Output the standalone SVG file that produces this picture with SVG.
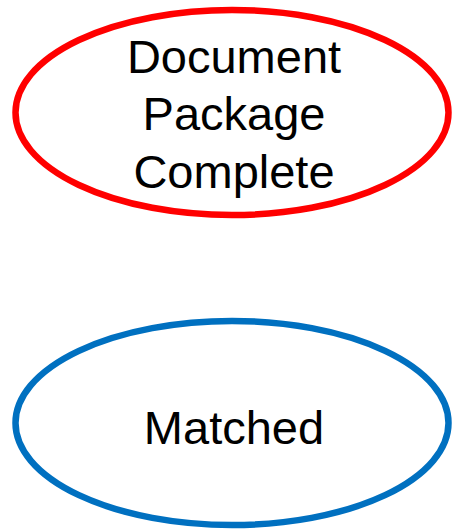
<svg xmlns="http://www.w3.org/2000/svg" width="452" height="530" viewBox="0 0 452 530">
<style>
.n{fill:#fff;stroke-width:6.5}
.t{font-family:"Liberation Sans",Arial,sans-serif;font-size:47px;fill:#000;text-anchor:middle}
</style>
<rect width="452" height="530" fill="#fff"/>
<g id="connectors"></g>
<g id="doc-package-complete">
<ellipse class="n" cx="232" cy="112.5" rx="216.5" ry="102.5" stroke="#ff0000"/>
<text class="t" x="234" y="72.5">Document</text>
<text class="t" x="234" y="130">Package</text>
<text class="t" x="234" y="188">Complete</text>
</g>
<g id="matched">
<ellipse class="n" cx="232" cy="423" rx="216.5" ry="102" stroke="#0070c0"/>
<text class="t" x="234" y="443.5">Matched</text>
</g>
</svg>
